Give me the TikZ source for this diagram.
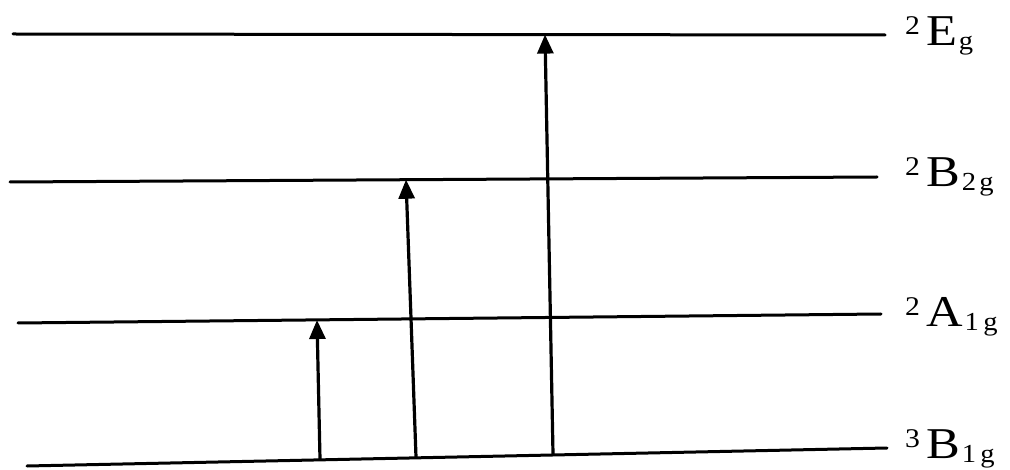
\documentclass[tikz,border=0pt]{standalone}
\usepackage{fontspec}
\setmainfont{Liberation Serif}
\usetikzlibrary{arrows.meta}
\newcommand{\lvlab}[3]{\raisebox{11pt}{\scalebox{1.1}[1]{\fontsize{27}{27}\selectfont #2}}\hspace{6pt}\scalebox{1.15}[1]{\fontsize{44}{44}\selectfont #1}\hspace{2pt}\raisebox{-4pt}{\scalebox{1.1}[1]{\fontsize{26}{26}\selectfont #3}}}
\begin{document}
\begin{tikzpicture}[x=1pt,y=-1pt,
  level/.style={line width=3pt, line cap=round},
  trans/.style={line width=3.2pt, -{Triangle[length=19pt,width=16pt]}},
  lab/.style={anchor=base west, inner sep=0pt}]
\useasboundingbox (0,0) rectangle (1010,470);
% level lines
\coordinate (e1) at (13,34);   \coordinate (e2) at (885,35);
\coordinate (b1) at (10,182);  \coordinate (b2) at (877,177);
\coordinate (a1) at (18,323);  \coordinate (a2) at (881,314);
\coordinate (g1) at (27,466);  \coordinate (g2) at (887,448);
\draw[level] (e1) -- (e2);
\draw[level] (b1) -- (b2);
\draw[level] (a1) -- (a2);
\draw[level] (g1) -- (g2);
% labels
\node[lab] (le) at (905,46)  {\lvlab{E}{2}{g}};
\node[lab] (lb) at (905,187) {\lvlab{B}{2}{2\hspace{3pt}g}};
\node[lab] (la) at (905,327) {\lvlab{A}{2}{1\hspace{4pt}g}};
\node[lab] (lg) at (905,458) {\lvlab{B}{3}{1\hspace{4pt}g}};
% transitions
\coordinate (t1s) at (320,459.2); \coordinate (t1e) at (317,320);
\coordinate (t2s) at (416,457);   \coordinate (t2e) at (406,179.7);
\coordinate (t3s) at (553,453.8); \coordinate (t3e) at (545,34.6);
\draw[trans] (t1s) -- (t1e);
\draw[trans] (t2s) -- (t2e);
\draw[trans] (t3s) -- (t3e);
\end{tikzpicture}
\end{document}
